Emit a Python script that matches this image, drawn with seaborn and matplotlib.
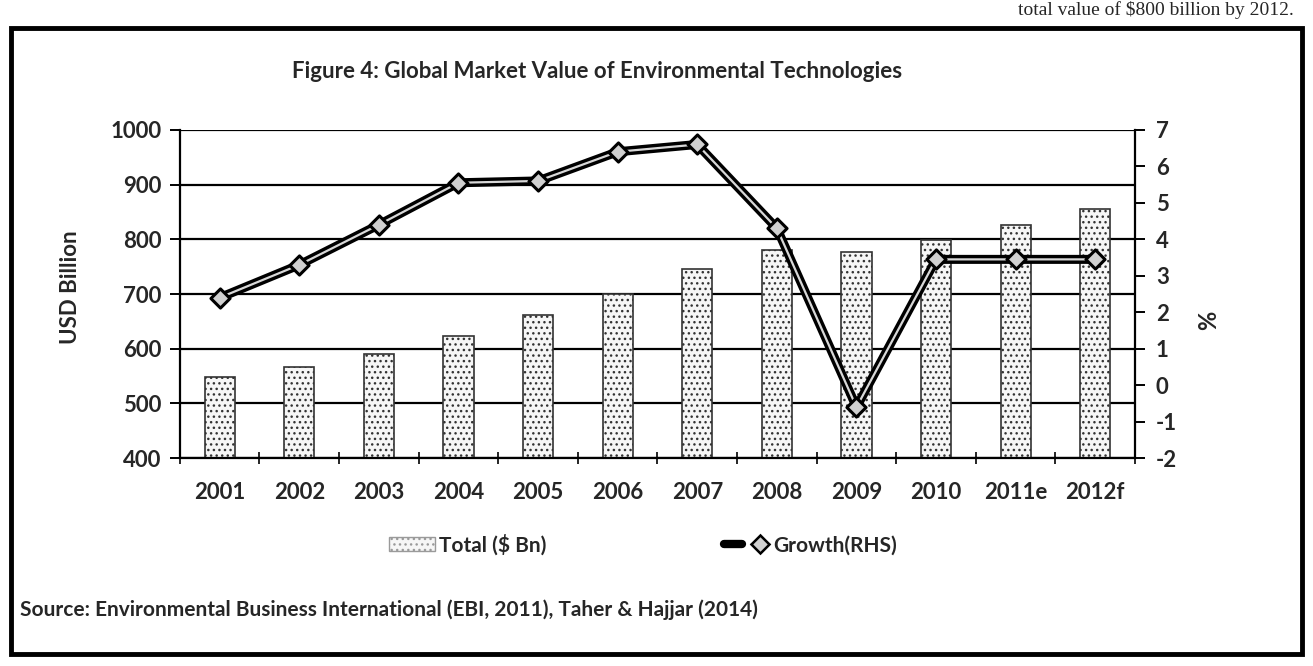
import numpy as np
import pandas as pd
import matplotlib
matplotlib.use("Agg")
import matplotlib.pyplot as plt
from matplotlib.patches import Patch, Rectangle
from matplotlib.lines import Line2D
from matplotlib.legend_handler import HandlerTuple
import seaborn as sns

# data
years = ["2001", "2002", "2003", "2004", "2005", "2006", "2007", "2008", "2009", "2010", "2011e", "2012f"]
total_bn = [548, 567, 590, 624, 661, 700, 746, 780, 777, 798, 826, 856]
growth_pct = [2.4, 3.3, 4.4, 5.55, 5.6, 6.4, 6.6, 4.3, -0.6, 3.45, 3.45, 3.45]

left_ticks = [400, 500, 600, 700, 800, 900, 1000]
right_ticks = [-2, -1, 0, 1, 2, 3, 4, 5, 6, 7]

sns.set_style("white")
plt.rcParams['font.family'] = ['Lato', 'DejaVu Sans']
plt.rcParams['axes.unicode_minus'] = False
plt.rcParams['hatch.linewidth'] = 1.0
plt.rcParams['hatch.color'] = '#9a9a9a'

df = pd.DataFrame({"year": years, "total": total_bn, "growth": growth_pct})
df["pos"] = np.arange(len(df))

fig = plt.figure(figsize=(13.13, 6.66), dpi=100)
ax = fig.add_axes([0.137, 0.312, 0.7275, 0.493])

# bars (left axis)
sns.barplot(data=df, x="year", y="total", ax=ax, width=0.38, color="#f6f6f6",
            edgecolor="#333333", linewidth=1.2, hatch="...", zorder=2)
ax.set_ylim(400, 1000)
ax.set_yticks(left_ticks)
ax.set_xlim(-0.5, len(years) - 0.5)
ax.yaxis.grid(True, color="black", lw=1.6, zorder=0)
ax.xaxis.grid(False)
ax.set_axisbelow(True)

ax.set_xlabel("")
ax.set_ylabel("USD Billion", fontsize=16, fontweight="bold")
ax.yaxis.set_label_coords(-0.103, 0.52)
ax.tick_params(axis="y", which="major", length=7, width=1.4, direction="out",
               labelsize=16, pad=6, color="black", left=True)
ax.tick_params(axis="x", which="major", length=0, labelsize=16, pad=17)
ax.set_xticks(np.arange(-0.5, len(years), 1), minor=True)
ax.tick_params(axis="x", which="minor", length=9, width=1.4, direction="inout", bottom=True)
for lab in ax.get_xticklabels() + ax.get_yticklabels():
    lab.set_fontweight("bold")

for s in ["top", "right"]:
    ax.spines[s].set_visible(False)
for s in ["left", "bottom"]:
    ax.spines[s].set_color("black")
    ax.spines[s].set_linewidth(1.6)

# growth line (right axis)
ax2 = ax.twinx()
sns.lineplot(data=df, x="pos", y="growth", ax=ax2, color="black", lw=6.5, zorder=3)
sns.lineplot(data=df, x="pos", y="growth", ax=ax2, color="#d8d8d8", lw=1.6, zorder=4)
sns.scatterplot(data=df, x="pos", y="growth", ax=ax2, marker="D", s=95,
                color="#d0d0d0", edgecolor="black", linewidth=2.2, zorder=5)
ax2.set_ylim(-2, 7)
ax2.set_yticks(right_ticks)
ax2.set_xlim(-0.5, len(years) - 0.5)
ax2.set_xlabel("")
ax2.set_ylabel("%", fontsize=17, fontweight="bold", rotation=90)
ax2.yaxis.set_label_coords(1.065, 0.42)
ax2.tick_params(axis="y", length=7, width=1.4, direction="out", labelsize=16,
                pad=8, right=True, color="black")
for lab in ax2.get_yticklabels():
    lab.set_fontweight("bold")
for s in ["top", "left", "bottom"]:
    ax2.spines[s].set_visible(False)
ax2.spines["right"].set_color("black")
ax2.spines["right"].set_linewidth(1.6)
ax2.grid(False)

# legend
bar_handle = Patch(facecolor="#f6f6f6", edgecolor="#9a9a9a", hatch="...")
line_outer = Line2D([], [], color="black", lw=6)
line_inner = Line2D([], [], color="#d8d8d8", lw=1.6, marker="D", markersize=9,
                    markerfacecolor="#d0d0d0", markeredgecolor="black", markeredgewidth=1.8)
fig.legend([bar_handle, (line_outer, line_inner)], ["Total ($ Bn)", "Growth(RHS)"],
           handler_map={tuple: HandlerTuple(ndivide=None)},
           loc="center", bbox_to_anchor=(0.49, 0.182), ncol=2, frameon=False,
           prop={"size": 15, "weight": "bold"}, handlelength=2.2, handletextpad=0.2,
           columnspacing=8.5)

fig.text(0.455, 0.893, "Figure 4: Global Market Value of Environmental Technologies",
         ha="center", va="center", fontsize=16, fontweight="bold")
fig.text(0.015, 0.084, "Source: Environmental Business International (EBI, 2011), Taher & Hajjar (2014)",
         ha="left", va="center", fontsize=15, fontweight="bold")
fig.text(0.985, 0.985, "total value of $800 billion by 2012.", ha="right", va="center",
         fontsize=14, family=["Liberation Serif", "DejaVu Serif"])

# frame around the figure
fig.patches.append(Rectangle((0.008, 0.018), 0.984, 0.94, transform=fig.transFigure,
                             fill=False, edgecolor="black", lw=3.5))

fig.savefig("out.png", dpi=100)
